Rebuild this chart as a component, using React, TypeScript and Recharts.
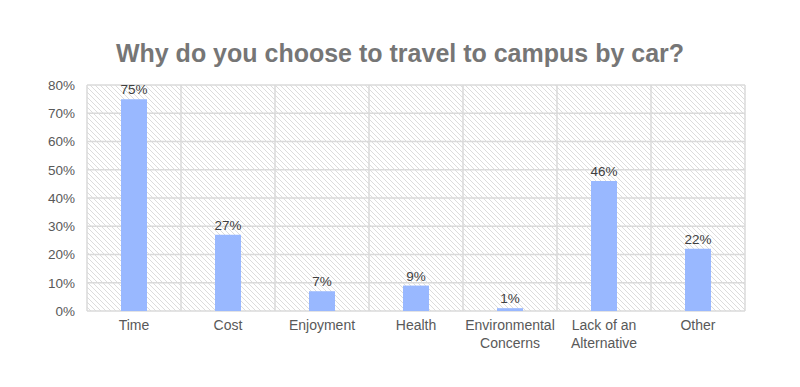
import React from "react";
import { BarChart, Bar, XAxis, YAxis, CartesianGrid, LabelList } from "recharts";

const categories = ["Time", "Cost", "Enjoyment", "Health", "Environmental Concerns", "Lack of an Alternative", "Other"];
const tickLines: string[][] = [["Time"], ["Cost"], ["Enjoyment"], ["Health"], ["Environmental", "Concerns"], ["Lack of an", "Alternative"], ["Other"]];
const percentages = [75, 27, 7, 9, 1, 46, 22];
const yTicks = [0, 10, 20, 30, 40, 50, 60, 70, 80];

const data = categories.map((c, i) => ({ name: c, value: percentages[i], idx: i }));

const FONT = "'Liberation Sans', Arial, sans-serif";

const XTick = (props: any) => {
  const { x, y, payload } = props;
  const lines = tickLines[payload.index] || [payload.value];
  return (
    <text x={x} y={y} textAnchor="middle" fill="#595959" fontSize={14} fontFamily={FONT}>
      {lines.map((l, i) => (
        <tspan key={i} x={x} dy={i === 0 ? 11 : 18}>{l}</tspan>
      ))}
    </text>
  );
};

export default function App() {
  return (
    <div style={{ position: "absolute", left: 0, top: 0, width: 800, height: 387, background: "#fff" }}>
      <svg width={0} height={0} style={{ position: "absolute" }}>
        <defs>
          <pattern id="hatch" patternUnits="userSpaceOnUse" width={5} height={5}>
            <rect width={5} height={5} fill="#ffffff" />
            <path d="M-1,-1 L6,6 M-1,4 L1,6 M4,-1 L6,1" stroke="#dcdcdc" strokeWidth={1} />
          </pattern>
        </defs>
      </svg>
      <div
        style={{
          position: "absolute",
          left: 0,
          top: 38,
          width: 800,
          textAlign: "center",
          fontFamily: FONT,
          fontWeight: "bold",
          fontSize: 25,
          color: "#767676",
          lineHeight: "30px",
          whiteSpace: "nowrap",
        }}
      >
        Why do you choose to travel to campus by car?
      </div>
      <BarChart
        width={800}
        height={387}
        data={data}
        margin={{ top: 85, right: 55, bottom: 36, left: 0 }}
        barCategoryGap={0}
      >
        <CartesianGrid
          stroke="#dadada"
          strokeWidth={1.5}
          fill="url(#hatch)"
          fillOpacity={1}
          verticalCoordinatesGenerator={({ offset }: any) =>
            Array.from({ length: categories.length + 1 }, (_, i) => offset.left + (i * offset.width) / categories.length)
          }
        />
        <XAxis
          dataKey="name"
          axisLine={false}
          tickLine={false}
          interval={0}
          height={40}
          tick={<XTick />}
        />
        <YAxis
          domain={[0, 80]}
          ticks={yTicks}
          width={87}
          axisLine={false}
          tickLine={false}
          tickMargin={6}
          tickFormatter={(v: number) => `${v}%`}
          tick={{ fill: "#595959", fontSize: 13.5, fontFamily: FONT }}
        />
        <Bar dataKey="value" fill="#99b8ff" barSize={26} isAnimationActive={false}>
          <LabelList
            dataKey="value"
            position="top"
            offset={5}
            formatter={(v: any) => `${v}%`}
            fill="#404040"
            fontSize={13.5}
            fontFamily={FONT}
          />
        </Bar>
      </BarChart>
    </div>
  );
}
